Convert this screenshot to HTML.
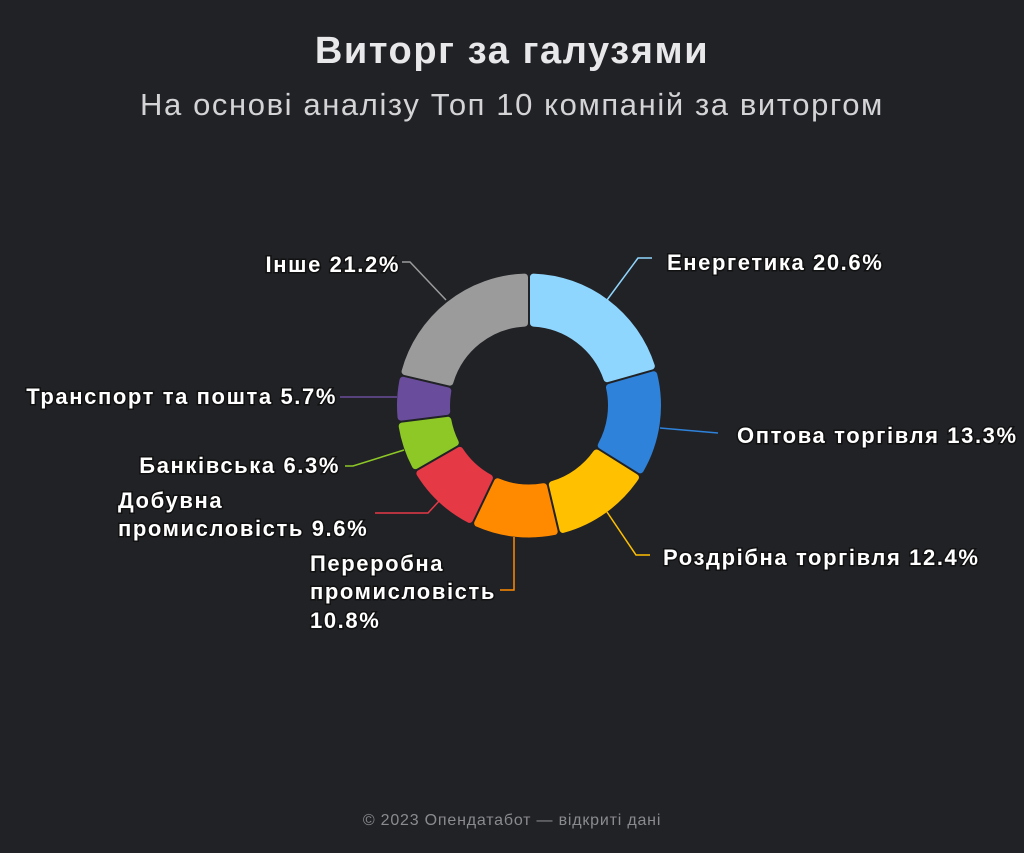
<!DOCTYPE html>
<html><head><meta charset="utf-8"><style>
html,body{margin:0;padding:0;background:#212226;}
body{width:1024px;height:853px;overflow:hidden;position:relative;font-family:"Liberation Sans",sans-serif;}
.t{position:absolute;left:0;width:1024px;text-align:center;}
</style></head><body>
<div class="t" style="top:30px;font-size:38px;font-weight:bold;color:#e8e8ea;letter-spacing:1.6px;">Виторг за галузями</div>
<div class="t" style="top:87px;font-size:31px;color:#d4d4d6;letter-spacing:1.6px;">На основі аналізу Топ 10 компаній за виторгом</div>
<div class="t" style="top:812px;font-size:16px;color:#8a8b8f;letter-spacing:0.8px;">© 2023 Опендатабот — відкриті дані</div>
<svg id="s" width="1024" height="853" style="position:absolute;left:0;top:0" font-family="Liberation Sans, sans-serif" font-weight="bold" font-size="22" letter-spacing="1.6" fill="#fff"></svg>
<script>
var s=document.getElementById('s');
var cx=529,cy=405.5,R=132,r=79;
var d=[[20.6,'#8fd6fe'],[13.3,'#2e82d9'],[12.4,'#ffc000'],[10.8,'#ff8a00'],[9.6,'#e63946'],[6.3,'#8dc826'],[5.7,'#6a4c9c'],[21.3,'#9b9b9b']];
function p(a,rad){return [cx+rad*Math.sin(a),cy-rad*Math.cos(a)];}
var a0=0,h='';
d.forEach(function(x){var a1=a0+x[0]/100*2*Math.PI;var w=3.5;
 var Ro=R-w,ri=r+w;var g1=(w+1)/Ro,gi1=(w+1)/ri;
 var A=p(a0+g1,Ro),B=p(a1-g1,Ro),C=p(a1-gi1,ri),D=p(a0+gi1,ri);
 var lg=(a1-a0)>Math.PI?1:0;
 h+='<path d="M'+A+' A'+Ro+' '+Ro+' 0 '+lg+' 1 '+B+' L'+C+' A'+ri+' '+ri+' 0 '+lg+' 0 '+D+' Z" fill="'+x[1]+'" stroke="'+x[1]+'" stroke-width="7" stroke-linejoin="round"/>';
 a0=a1;});
var L=[['#8fd6fe','607,300 638,258 652,258'],['#2e82d9','660,428 718,433'],['#ffc000','607,512 636,555 650,555'],['#ff8a00','514,537 514,590 500,590'],['#e63946','440,500 428,513 375,513'],['#8dc826','404,450 353,466 345,466'],['#6a4c9c','397,397 340,397'],['#9b9b9b','446,300 410,262 402,262']];
L.forEach(function(l){h+='<polyline points="'+l[1]+'" fill="none" stroke="'+l[0]+'" stroke-width="1.5"/>';});
var T=[[667,270,'start','Енергетика 20.6%'],[737,443,'start','Оптова торгівля 13.3%'],[663,565,'start','Роздрібна торгівля 12.4%'],[310,571,'start','Переробна'],[310,599,'start','промисловість'],[310,628,'start','10.8%'],[118,508,'start','Добувна'],[118,536,'start','промисловість 9.6%'],[340,473,'end','Банківська 6.3%'],[337,404,'end','Транспорт та пошта 5.7%'],[400,272,'end','Інше 21.2%']];
T.forEach(function(t){h+='<text x="'+t[0]+'" y="'+t[1]+'" text-anchor="'+t[2]+'" stroke="#111" stroke-width="3" paint-order="stroke">'+t[3]+'</text>';});
s.innerHTML=h;
</script>
</body></html>
